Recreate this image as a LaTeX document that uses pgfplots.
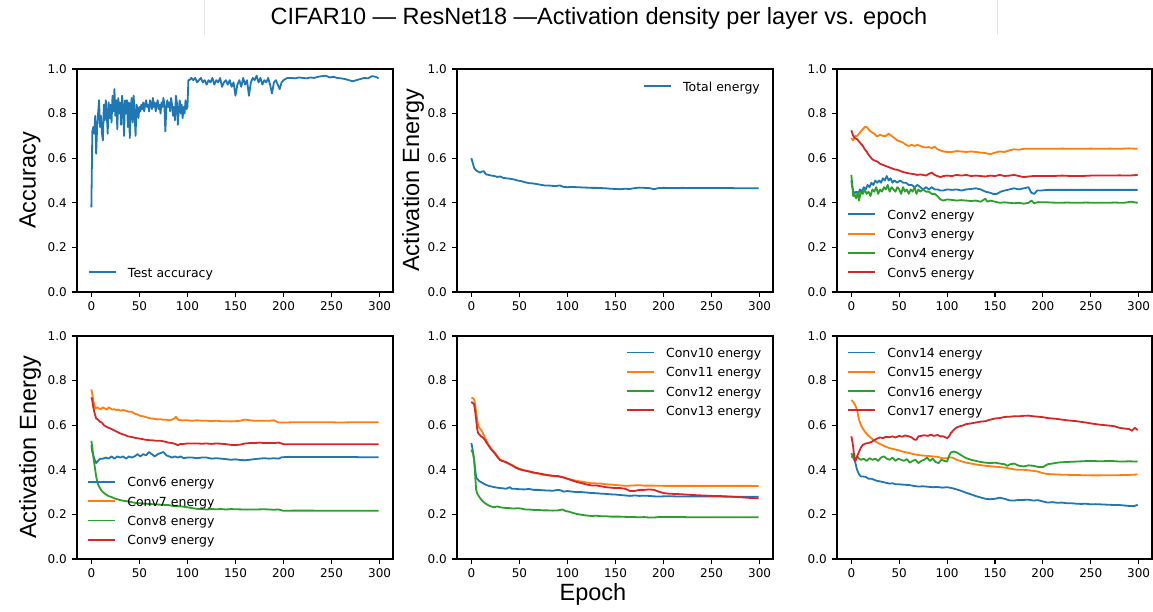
\documentclass[border=0pt]{standalone}
\usepackage{fontspec}
\setmainfont{DejaVu Sans}
\newfontfamily\arialf{Liberation Sans}
\usepackage{pgfplots}
\pgfplotsset{compat=1.18}

\definecolor{c0}{HTML}{1F77B4}
\definecolor{c1}{HTML}{FF7F0E}
\definecolor{c2}{HTML}{2CA02C}
\definecolor{c3}{HTML}{D62728}

\newcommand\tickfont{\fontsize{12}{12}\selectfont}
\newcommand\legfont{\fontsize{12.5}{12.5}\selectfont}
\newcommand\labfont{\arialf\fontsize{23.5}{23.5}\selectfont}

\pgfplotsset{panel/.style={
    scale only axis, width=316pt, height=223pt, anchor=south west,
    xmin=-14.95, xmax=313.95, ymin=0, ymax=1,
    xtick={0,50,...,300}, ytick={0,0.2,0.4,0.6,0.8,1.0},
    tick align=outside, tick pos=left, major tick length=5pt,
    tick style={black, line width=1.1pt},
    axis line style={line width=1.1pt},
    ticklabel style={font=\tickfont, inner sep=0pt},
    xticklabel shift=4.5pt, yticklabel shift=5pt,
    /pgf/number format/assume math mode=true,
    yticklabel style={/pgf/number format/.cd, fixed, fixed zerofill, precision=1},
    legend style={draw=none, fill=none, font=\legfont, inner sep=0pt,
      row sep=7.3pt, column sep=11pt,
      nodes={inner sep=0pt, text height=9pt, text depth=3pt},
      cells={anchor=base west}},
    legend image code/.code={\draw[##1] (0pt,5pt) -- (27pt,5pt);},
    every axis plot/.append style={line width=1.8pt, line join=round, mark=none},
}}

\begin{document}
\begin{tikzpicture}
\path[use as bounding box] (0pt,0pt) rectangle (1153pt,611pt);

% top left: accuracy
\begin{axis}[panel, at={(77pt,319pt)},
    legend style={at={(axis description cs:0.0348,0.052)}, anchor=south west}]
\addplot[c0] coordinates {(0,.38)(1,.72)(2,.74)(3,.71)(4,.79)(5,.62)(6,.74)(7,.80)(8,.86)(9,.74)
(10,.79)(11,.71)(12,.68)(13,.84)(14,.77)(15,.86)(16,.80)(17,.71)(18,.85)(19,.78)
(20,.84)(21,.76)(22,.88)(23,.81)(24,.91)(25,.79)(26,.86)(27,.73)(28,.87)(29,.80)
(30,.85)(31,.75)(32,.88)(33,.83)(34,.70)(35,.86)(36,.80)(37,.86)(38,.74)(39,.85)
(40,.69)(41,.83)(42,.87)(43,.76)(44,.88)(45,.80)(46,.70)(47,.84)(48,.82)(49,.78)
(50,.83)(51,.81)(52,.84)(53,.82)(54,.85)(55,.81)(56,.84)(57,.86)(58,.83)(59,.84)
(60,.81)(61,.86)(62,.84)(63,.82)(64,.87)(65,.83)(66,.85)(67,.81)(68,.84)(69,.86)
(70,.82)(71,.84)(72,.80)(73,.85)(74,.83)(75,.87)(76,.84)(77,.72)(78,.82)(79,.86)
(80,.83)(81,.85)(82,.81)(83,.87)(84,.84)(85,.79)(86,.83)(87,.77)(88,.88)(89,.85)
(90,.75)(91,.82)(92,.86)(93,.80)(94,.84)(95,.78)(96,.83)(97,.80)(98,.86)(99,.82)
(100,.83)(101,.95)(102,.95)(104,.96)(106,.95)(108,.96)(110,.94)(112,.95)(114,.96)(116,.94)
(118,.95)(120,.93)(122,.95)(124,.94)(126,.96)(128,.93)(130,.95)(132,.94)(134,.96)(136,.92)
(138,.94)(140,.95)(142,.93)(144,.95)(146,.92)(148,.94)(150,.88)(152,.93)(154,.95)(156,.92)
(158,.96)(160,.93)(162,.95)(164,.88)(166,.94)(168,.96)(170,.95)(172,.97)(174,.94)(176,.96)
(178,.93)(180,.95)(182,.94)(184,.96)(186,.93)(188,.89)(190,.94)(192,.95)(194,.93)(196,.91)
(198,.94)(200,.95)(204,.96)(208,.96)(212,.958)(216,.962)(220,.96)(224,.958)(228,.962)(232,.96)
(236,.965)(240,.968)(244,.97)(248,.962)(252,.965)(256,.96)(260,.958)(264,.955)(268,.95)(272,.945)
(276,.95)(280,.955)(284,.96)(288,.958)(292,.968)(296,.965)(299,.958)};
\legend{Test accuracy}
\end{axis}

% top middle: total energy
\begin{axis}[panel, at={(457pt,319pt)},
    legend style={at={(axis description cs:0.589,0.9417)}, anchor=north west}]
\addplot[c0] coordinates {(0,.60)(2,.57)(3,.555)(5,.545)(7,.54)(9,.535)(11,.54)(13,.542)(15,.528)(18,.525)
(21,.522)(24,.52)(27,.516)(30,.518)(33,.512)(36,.51)(40,.508)(44,.505)(48,.50)(52,.497)
(56,.492)(60,.488)(64,.487)(68,.484)(72,.481)(76,.478)(80,.478)(84,.476)(88,.475)(92,.478)
(96,.471)(100,.47)(105,.471)(110,.47)(115,.469)(120,.468)(125,.467)(130,.467)(135,.466)(140,.465)
(145,.463)(150,.462)(155,.461)(160,.463)(165,.462)(170,.466)(175,.468)(180,.467)(185,.466)(190,.461)
(195,.466)(200,.467)(210,.466)(220,.467)(230,.466)(240,.466)(250,.466)(260,.466)(270,.466)(280,.465)
(290,.465)(299,.465)};
\legend{Total energy}
\end{axis}

% top right: conv2-5
\begin{axis}[panel, width=315pt, at={(837pt,319pt)},
    legend style={at={(axis description cs:0.0327,0.052)}, anchor=south west}]
\addplot[c0] coordinates {(0,.50)(1,.47)(3,.44)(5,.45)(7,.44)(9,.46)(11,.45)(13,.47)(15,.46)(17,.48)
(19,.47)(21,.49)(23,.48)(25,.50)(27,.49)(29,.50)(31,.49)(33,.51)(35,.50)(37,.52)
(39,.50)(41,.51)(43,.49)(45,.50)(48,.49)(51,.50)(54,.49)(57,.49)(60,.48)(63,.48)
(66,.47)(69,.48)(72,.47)(75,.46)(78,.47)(81,.46)(84,.47)(87,.46)(90,.46)(93,.455)
(96,.455)(100,.46)(105,.458)(110,.46)(115,.455)(120,.46)(125,.462)(130,.465)(135,.46)(140,.45)
(145,.445)(148,.44)(152,.44)(156,.45)(160,.455)(165,.46)(170,.465)(175,.46)(180,.465)(185,.47)
(188,.445)(191,.44)(194,.455)(198,.455)(205,.458)(215,.458)(225,.458)(235,.458)(245,.458)(255,.458)
(265,.458)(275,.458)(285,.458)(299,.458)};
\addplot[c1] coordinates {(0,.69)(2,.68)(4,.70)(6,.70)(8,.71)(10,.72)(12,.73)(14,.74)(16,.74)(18,.73)
(20,.72)(22,.715)(24,.71)(26,.70)(28,.70)(30,.705)(33,.70)(36,.70)(39,.71)(42,.70)
(45,.69)(48,.68)(51,.675)(54,.67)(57,.66)(60,.655)(63,.66)(66,.655)(69,.66)(72,.655)
(75,.65)(78,.648)(81,.65)(84,.645)(87,.652)(90,.64)(93,.635)(96,.63)(100,.628)(105,.628)
(110,.632)(115,.63)(120,.628)(125,.63)(130,.628)(135,.625)(140,.623)(145,.618)(150,.625)(155,.63)
(160,.628)(165,.635)(170,.64)(175,.638)(180,.642)(190,.642)(200,.642)(210,.642)(220,.643)(230,.642)
(240,.642)(250,.643)(260,.642)(270,.643)(280,.642)(290,.644)(299,.642)};
\addplot[c2] coordinates {(0,.525)(1,.48)(2,.43)(3,.44)(5,.42)(7,.45)(8,.41)(10,.45)(12,.44)(14,.46)
(16,.44)(18,.45)(20,.43)(22,.46)(24,.45)(26,.47)(28,.44)(30,.46)(32,.45)(34,.47)
(36,.46)(38,.48)(40,.45)(42,.47)(44,.46)(46,.45)(48,.47)(50,.46)(52,.44)(54,.47)
(56,.45)(58,.46)(60,.44)(62,.46)(64,.45)(66,.47)(68,.44)(70,.46)(72,.45)(75,.46)
(78,.45)(81,.45)(84,.44)(87,.44)(90,.43)(93,.415)(96,.41)(100,.415)(105,.413)(110,.41)
(115,.412)(120,.41)(125,.408)(130,.41)(135,.405)(140,.418)(142,.405)(145,.41)(150,.405)(155,.40)
(160,.402)(165,.40)(170,.398)(175,.40)(180,.396)(185,.40)(188,.41)(191,.398)(195,.403)(205,.402)
(215,.40)(225,.401)(235,.40)(245,.401)(255,.40)(265,.40)(275,.401)(285,.40)(292,.405)(299,.40)};
\addplot[c3] coordinates {(0,.725)(2,.70)(4,.69)(6,.685)(8,.675)(10,.665)(12,.655)(14,.64)(16,.63)(18,.615)
(20,.605)(22,.595)(24,.59)(27,.585)(30,.575)(33,.57)(36,.565)(39,.56)(42,.555)(45,.55)
(48,.548)(51,.543)(54,.538)(57,.535)(60,.532)(63,.53)(66,.528)(69,.525)(72,.527)(75,.525)
(78,.522)(81,.53)(84,.535)(87,.525)(90,.52)(93,.515)(96,.52)(100,.522)(105,.52)(110,.525)
(115,.522)(120,.525)(125,.52)(130,.522)(135,.52)(140,.518)(145,.522)(150,.52)(155,.525)(160,.52)
(165,.522)(170,.525)(175,.52)(180,.515)(185,.518)(190,.52)(200,.52)(210,.52)(220,.522)(230,.52)
(240,.52)(250,.522)(260,.522)(270,.522)(280,.523)(290,.522)(299,.525)};
\legend{Conv2 energy, Conv3 energy, Conv4 energy, Conv5 energy}
\end{axis}

% bottom left: conv6-9
\begin{axis}[panel, at={(77pt,52pt)},
    legend style={at={(axis description cs:0.0326,0.049)}, anchor=south west}]
\addplot[c0] coordinates {(0,.51)(1,.48)(3,.45)(5,.43)(7,.44)(9,.45)(12,.45)(15,.455)(18,.45)(21,.46)
(24,.45)(27,.46)(30,.455)(33,.46)(36,.45)(39,.46)(42,.455)(45,.46)(48,.47)(51,.46)
(54,.47)(57,.465)(60,.48)(63,.47)(66,.46)(69,.47)(72,.475)(75,.48)(78,.465)(81,.46)
(84,.455)(87,.46)(90,.455)(93,.46)(96,.452)(100,.455)(105,.455)(110,.452)(115,.455)(120,.455)
(125,.45)(130,.452)(135,.45)(140,.448)(145,.445)(150,.447)(155,.444)(160,.443)(165,.445)(170,.448)
(175,.45)(180,.452)(185,.45)(190,.452)(195,.45)(198,.456)(205,.458)(215,.457)(225,.457)(235,.457)
(245,.457)(255,.457)(265,.457)(275,.457)(285,.456)(299,.456)};
\addplot[c1] coordinates {(0,.76)(1,.74)(2,.71)(4,.675)(6,.68)(8,.675)(10,.672)(12,.68)(14,.675)(16,.67)
(18,.68)(20,.675)(22,.67)(24,.672)(26,.668)(28,.67)(30,.665)(33,.668)(36,.665)(39,.66)
(42,.66)(45,.652)(48,.648)(51,.642)(54,.64)(57,.636)(60,.632)(63,.63)(66,.628)(69,.626)
(72,.627)(75,.624)(78,.625)(81,.622)(84,.625)(87,.632)(88,.638)(90,.625)(93,.622)(96,.622)
(100,.622)(105,.62)(110,.622)(115,.62)(120,.62)(125,.618)(130,.62)(135,.618)(140,.618)(145,.617)
(150,.618)(155,.62)(160,.625)(165,.622)(170,.62)(175,.62)(180,.62)(185,.62)(190,.622)(195,.612)
(200,.612)(210,.613)(220,.613)(230,.613)(240,.613)(250,.613)(260,.612)(270,.613)(280,.613)(290,.613)
(299,.613)};
\addplot[c2] coordinates {(0,.53)(1,.50)(2,.46)(3,.43)(4,.40)(5,.37)(6,.35)(7,.335)(8,.325)(10,.31)
(12,.30)(15,.29)(18,.282)(21,.278)(24,.272)(27,.268)(30,.264)(35,.26)(40,.257)(45,.252)
(50,.25)(55,.248)(60,.247)(65,.245)(70,.244)(75,.243)(80,.242)(85,.238)(90,.237)(95,.235)
(100,.232)(105,.228)(110,.225)(115,.224)(120,.222)(125,.224)(130,.223)(135,.224)(140,.222)(145,.224)
(150,.223)(160,.222)(170,.222)(180,.223)(190,.221)(195,.222)(200,.216)(210,.217)(220,.217)(230,.217)
(240,.216)(250,.216)(260,.216)(270,.216)(280,.216)(290,.216)(299,.216)};
\addplot[c3] coordinates {(0,.725)(1,.71)(2,.68)(3,.66)(4,.645)(5,.63)(7,.625)(9,.615)(11,.612)(13,.60)
(15,.595)(17,.59)(20,.585)(23,.578)(26,.572)(29,.565)(32,.56)(35,.556)(38,.55)(41,.548)
(44,.545)(47,.542)(50,.54)(53,.538)(56,.535)(60,.533)(64,.532)(68,.53)(72,.53)(76,.527)
(80,.522)(84,.52)(88,.515)(90,.51)(92,.515)(96,.516)(100,.518)(105,.518)(110,.518)(115,.517)
(120,.518)(125,.516)(130,.518)(135,.517)(140,.515)(145,.512)(150,.511)(155,.513)(160,.518)(165,.52)
(170,.52)(175,.522)(180,.52)(185,.52)(190,.52)(195,.522)(200,.515)(210,.515)(220,.515)(230,.515)
(240,.515)(250,.515)(260,.515)(270,.515)(280,.515)(290,.515)(299,.515)};
\legend{Conv6 energy, Conv7 energy, Conv8 energy, Conv9 energy}
\end{axis}

% bottom middle: conv10-13
\begin{axis}[panel, at={(457pt,52pt)},
    legend style={at={(axis description cs:0.535,0.945)}, anchor=north west}]
\addplot[c0] coordinates {(0,.52)(1,.50)(2,.47)(3,.44)(4,.40)(5,.365)(6,.36)(8,.35)(10,.345)(12,.34)
(15,.333)(18,.328)(21,.325)(24,.322)(27,.32)(30,.318)(33,.317)(36,.315)(40,.322)(42,.315)
(45,.315)(50,.313)(55,.312)(60,.314)(65,.31)(70,.31)(75,.308)(80,.307)(85,.306)(90,.31)
(93,.308)(96,.302)(100,.305)(105,.302)(110,.30)(115,.30)(120,.298)(125,.296)(130,.295)(135,.293)
(140,.292)(145,.29)(150,.289)(155,.287)(160,.285)(165,.283)(170,.285)(175,.283)(180,.284)(185,.283)
(190,.281)(195,.28)(200,.281)(210,.281)(220,.28)(230,.28)(240,.28)(250,.28)(260,.28)(270,.279)
(280,.279)(290,.279)(299,.279)};
\addplot[c1] coordinates {(0,.72)(1,.722)(2,.72)(3,.715)(4,.69)(5,.655)(6,.625)(7,.60)(8,.59)(10,.58)
(12,.565)(14,.545)(16,.528)(18,.512)(20,.498)(22,.488)(25,.474)(28,.455)(30,.445)(33,.44)
(36,.432)(40,.426)(43,.42)(46,.412)(50,.405)(55,.398)(60,.392)(65,.385)(70,.383)(75,.377)
(80,.375)(85,.372)(90,.37)(95,.366)(100,.36)(105,.355)(110,.35)(115,.347)(120,.343)(125,.34)
(130,.339)(135,.338)(140,.335)(145,.334)(150,.332)(155,.33)(160,.328)(165,.329)(170,.33)(175,.331)
(180,.329)(190,.329)(200,.328)(210,.328)(220,.328)(230,.328)(240,.328)(250,.328)(260,.328)(270,.328)
(280,.328)(290,.328)(299,.327)};
\addplot[c2] coordinates {(0,.49)(1,.48)(2,.47)(3,.44)(4,.37)(5,.31)(6,.295)(8,.28)(10,.268)(12,.258)
(15,.248)(18,.24)(21,.235)(24,.232)(27,.236)(30,.232)(33,.23)(36,.229)(40,.228)(44,.226)
(48,.228)(52,.226)(56,.222)(60,.222)(65,.22)(70,.22)(75,.218)(80,.218)(85,.217)(90,.218)
(95,.222)(98,.215)(102,.212)(106,.206)(110,.202)(115,.198)(120,.195)(125,.193)(130,.194)(135,.192)
(140,.192)(145,.19)(150,.19)(155,.19)(160,.189)(165,.188)(170,.188)(175,.187)(180,.188)(185,.186)
(190,.186)(195,.188)(200,.188)(210,.188)(220,.188)(230,.187)(240,.187)(250,.187)(260,.187)(270,.187)
(280,.187)(290,.187)(299,.187)};
\addplot[c3] coordinates {(0,.705)(1,.70)(2,.698)(3,.69)(4,.66)(5,.625)(6,.585)(7,.565)(8,.56)(10,.55)
(12,.545)(14,.535)(16,.52)(18,.508)(20,.495)(22,.485)(25,.47)(28,.452)(30,.443)(33,.438)
(36,.435)(40,.425)(43,.418)(46,.41)(50,.402)(55,.397)(60,.393)(65,.388)(70,.384)(75,.38)
(80,.376)(85,.373)(90,.372)(95,.367)(100,.36)(105,.352)(110,.345)(115,.34)(120,.334)(125,.33)
(130,.33)(135,.326)(140,.322)(145,.32)(150,.318)(155,.318)(160,.315)(165,.305)(170,.305)(175,.31)
(180,.31)(185,.312)(190,.31)(195,.302)(200,.296)(205,.293)(210,.292)(220,.29)(230,.287)(240,.285)
(250,.283)(260,.282)(270,.28)(280,.277)(290,.274)(299,.272)};
\legend{Conv10 energy, Conv11 energy, Conv12 energy, Conv13 energy}
\end{axis}

% bottom right: conv14-17
\begin{axis}[panel, width=315pt, at={(837pt,52pt)},
    legend style={at={(axis description cs:0.0327,0.945)}, anchor=north west}]
\addplot[c0] coordinates {(0,.46)(2,.455)(4,.435)(6,.40)(8,.38)(10,.37)(12,.37)(15,.368)(18,.36)(21,.36)
(24,.355)(27,.35)(30,.348)(33,.345)(36,.342)(40,.338)(43,.34)(46,.335)(50,.335)(55,.333)
(60,.332)(65,.328)(70,.325)(75,.326)(80,.324)(85,.322)(90,.323)(95,.32)(100,.322)(105,.318)
(110,.312)(115,.305)(120,.297)(125,.29)(130,.282)(135,.276)(140,.27)(145,.268)(150,.27)(155,.275)
(160,.27)(165,.263)(170,.262)(175,.265)(180,.265)(185,.266)(190,.262)(195,.264)(200,.258)(205,.253)
(210,.255)(215,.252)(220,.253)(225,.25)(230,.25)(235,.248)(240,.247)(245,.248)(250,.245)(255,.246)
(260,.245)(265,.244)(270,.243)(275,.242)(280,.242)(285,.24)(290,.238)(295,.237)(299,.243)};
\addplot[c1] coordinates {(0,.713)(2,.705)(4,.69)(6,.668)(8,.625)(10,.60)(12,.585)(14,.572)(17,.556)(20,.545)
(23,.534)(26,.525)(30,.516)(35,.505)(40,.497)(45,.492)(50,.487)(55,.48)(60,.476)(65,.47)
(70,.466)(75,.464)(80,.462)(85,.46)(90,.458)(95,.452)(100,.452)(103,.456)(106,.454)(110,.445)
(115,.438)(120,.432)(125,.428)(130,.424)(135,.421)(140,.418)(145,.416)(150,.414)(155,.412)(160,.41)
(165,.406)(170,.402)(175,.40)(180,.40)(185,.398)(190,.395)(195,.392)(200,.385)(205,.381)(210,.38)
(220,.378)(230,.377)(240,.376)(250,.375)(260,.375)(270,.376)(280,.376)(290,.377)(299,.379)};
\addplot[c2] coordinates {(0,.475)(2,.455)(4,.445)(6,.46)(8,.45)(10,.445)(13,.45)(16,.44)(19,.452)(22,.445)
(25,.45)(28,.44)(31,.455)(34,.46)(37,.45)(40,.445)(43,.455)(46,.44)(49,.45)(52,.445)
(55,.44)(58,.448)(61,.432)(64,.44)(67,.445)(70,.43)(73,.44)(76,.445)(79,.455)(82,.44)
(85,.45)(88,.435)(91,.43)(94,.445)(97,.44)(100,.437)(102,.462)(104,.478)(107,.482)(110,.478)
(113,.47)(116,.462)(120,.452)(125,.445)(130,.44)(135,.435)(140,.432)(145,.43)(150,.432)(155,.428)
(160,.425)(163,.418)(166,.425)(170,.428)(175,.418)(180,.415)(185,.42)(190,.418)(195,.413)(200,.412)
(205,.425)(210,.428)(215,.432)(220,.434)(230,.436)(240,.438)(250,.44)(260,.438)(270,.44)(280,.437)
(290,.438)(299,.437)};
\addplot[c3] coordinates {(0,.55)(1,.53)(2,.50)(3,.46)(4,.44)(5,.445)(6,.46)(8,.48)(10,.50)(12,.512)
(15,.518)(18,.52)(21,.525)(24,.533)(27,.54)(30,.545)(33,.542)(36,.548)(40,.546)(43,.55)
(46,.545)(50,.552)(53,.548)(56,.554)(60,.55)(63,.545)(66,.535)(68,.535)(70,.55)(73,.552)
(76,.555)(80,.552)(83,.558)(86,.552)(90,.556)(93,.55)(96,.55)(100,.542)(102,.55)(104,.565)
(107,.58)(110,.59)(113,.595)(116,.598)(120,.605)(125,.608)(130,.612)(135,.616)(140,.618)(145,.625)
(150,.63)(155,.632)(160,.637)(165,.638)(170,.64)(175,.64)(180,.642)(185,.643)(190,.64)(195,.638)
(200,.636)(205,.632)(210,.63)(215,.628)(220,.625)(225,.622)(230,.62)(235,.618)(240,.615)(245,.612)
(250,.608)(255,.605)(260,.602)(265,.60)(270,.598)(275,.595)(280,.588)(285,.585)(290,.583)(293,.575)
(296,.588)(299,.578)};
\legend{Conv14 energy, Conv15 energy, Conv16 energy, Conv17 energy}
\end{axis}

\node[font=\labfont, anchor=base] at (599pt,586pt) {CIFAR10 — ResNet18 —Activation density per layer vs. epoch};
\node[font=\labfont, anchor=base] at (593pt,11pt) {Epoch};
\node[font=\labfont, rotate=90] at (30pt,430.5pt) {Accuracy};
\node[font=\labfont, rotate=90] at (413pt,430.5pt) {Activation Energy};
\node[font=\labfont, rotate=90] at (30pt,163.5pt) {Activation Energy};
\draw[black!10, line width=1pt] (204pt,611pt) -- (204pt,576pt);
\draw[black!10, line width=1pt] (997pt,611pt) -- (997pt,576pt);
\end{tikzpicture}
\end{document}
